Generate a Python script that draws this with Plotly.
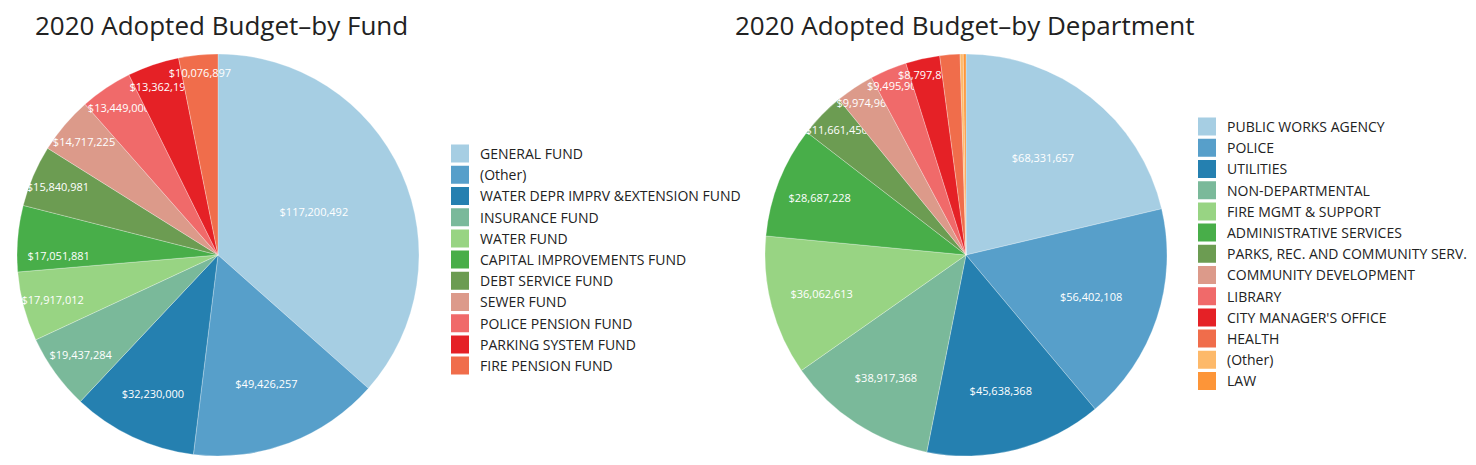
import plotly.graph_objects as go

# page body has an 8px margin, so figure is sized to the visible area
W, H = 1468, 457

fund_labels = ["GENERAL FUND", "(Other)", "WATER DEPR IMPRV &EXTENSION FUND", "INSURANCE FUND",
               "WATER FUND", "CAPITAL IMPROVEMENTS FUND", "DEBT SERVICE FUND", "SEWER FUND",
               "POLICE PENSION FUND", "PARKING SYSTEM FUND", "FIRE PENSION FUND"]
fund_values = [117200492, 49426257, 32230000, 19437284, 17917012, 17051881, 15840981,
               14717225, 13449000, 13362190, 10076897]

dept_labels = ["PUBLIC WORKS AGENCY", "POLICE", "UTILITIES", "NON-DEPARTMENTAL",
               "FIRE MGMT & SUPPORT", "ADMINISTRATIVE SERVICES", "PARKS, REC. AND COMMUNITY SERV.",
               "COMMUNITY DEVELOPMENT", "LIBRARY", "CITY MANAGER'S OFFICE", "HEALTH", "(Other)", "LAW"]
dept_values = [68331657, 56402108, 45638368, 38917368, 36062613, 28687228, 11661450,
               9974960, 9495900, 8797800, 5200000, 800000, 700000]

palette = ["#a6cee3", "#579fca", "#2580b0", "#7ab99a", "#98d483", "#48ae49", "#6c9c52",
           "#dc9a8a", "#f06a6a", "#e52126", "#f06d4b", "#fdb96a", "#fd9538"]

titles = ["2020 Adopted Budget\u2013by Fund", "2020 Adopted Budget\u2013by Department"]

FONT = "Open Sans"
MIN_SHARE = 0.02  # slices smaller than this carry no value label


def labels_for(values):
    total = sum(values)
    return ["$%{value:,}" if v / total >= MIN_SHARE else "" for v in values]


fig = go.Figure()

pies = [
    (fund_labels, fund_values, [9 / W, 411 / W], "legend"),
    (dept_labels, dept_values, [757 / W, 1159 / W], "legend2"),
]

for labels, values, xdom, leg in pies:
    fig.add_trace(go.Pie(
        labels=labels, values=values, sort=False, direction="clockwise", rotation=0,
        marker=dict(colors=palette[:len(labels)], line=dict(width=0.6, color="rgba(255,255,255,0.45)")),
        texttemplate=labels_for(values), textposition="inside", insidetextorientation="horizontal",
        textfont=dict(color="white", size=11, family=FONT),
        domain=dict(x=xdom, y=[9 / H, 411 / H]),
        showlegend=False, hoverinfo="label+value+percent",
    ))

# legend entries (square swatches) for each pie
for labels, values, xdom, leg in pies:
    for i, lab in enumerate(labels):
        fig.add_trace(go.Scatter(
            x=[None], y=[None], mode="markers", name=lab, legend=leg,
            marker=dict(symbol="square", size=16, color=palette[i],
                        line=dict(width=2, color=palette[i])),
            hoverinfo="skip",
        ))

fig.update_layout(
    width=W, height=H,
    margin=dict(l=0, r=0, t=0, b=0),
    paper_bgcolor="white", plot_bgcolor="white",
    font=dict(family=FONT, color="#222", size=14),
    uniformtext=dict(minsize=11, mode="show"),
    xaxis=dict(visible=False), yaxis=dict(visible=False),
    legend=dict(x=432 / W, xanchor="left", y=1 - 252 / H, yanchor="middle",
                font=dict(size=14, family=FONT, color="#222"), bgcolor="rgba(0,0,0,0)",
                itemclick=False, itemdoubleclick=False),
    legend2=dict(x=1179 / W, xanchor="left", y=1 - 246 / H, yanchor="middle",
                 font=dict(size=14, family=FONT, color="#222"), bgcolor="rgba(0,0,0,0)",
                 itemclick=False, itemdoubleclick=False),
    annotations=[
        dict(text=titles[0], x=25 / W, y=1 - 17 / H, xref="paper", yref="paper",
             xanchor="left", yanchor="middle", showarrow=False,
             font=dict(size=26, family=FONT, color="#222")),
        dict(text=titles[1], x=725 / W, y=1 - 17 / H, xref="paper", yref="paper",
             xanchor="left", yanchor="middle", showarrow=False,
             font=dict(size=26, family=FONT, color="#222")),
    ],
)

fig.write_html("out.html")
